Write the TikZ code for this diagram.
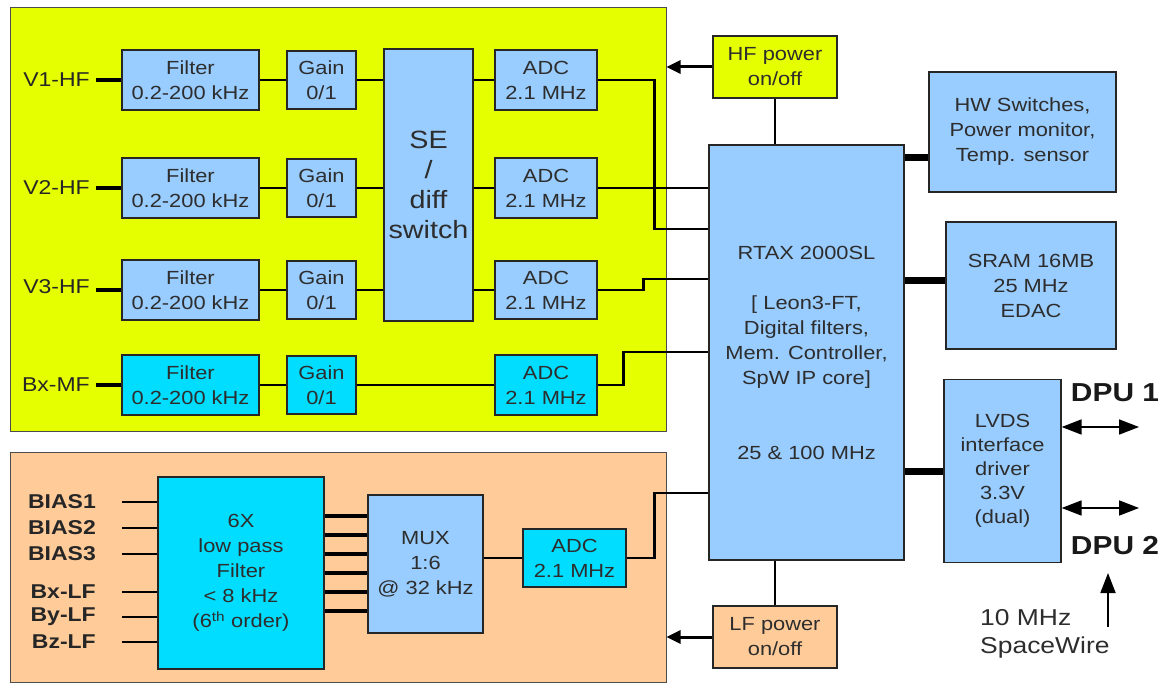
\documentclass[tikz,border=0pt]{standalone}
\usepackage{fontspec}
\setmainfont{Liberation Sans}[FakeStretch=1.15]
\usetikzlibrary{arrows.meta}
\definecolor{lblue}{RGB}{153,204,255}
\definecolor{cyanb}{RGB}{0,221,255}
\definecolor{yelreg}{RGB}{230,255,0}
\definecolor{orreg}{RGB}{255,204,153}
\definecolor{txt}{RGB}{45,45,45}
\newcommand\myfs[2]{\fontsize{#1}{#2}\selectfont}
\begin{document}
\begin{tikzpicture}[x=1pt,y=-1pt,
 every node/.style={inner sep=0pt, text=txt},
 sz/.style 2 args={minimum width=#1pt, minimum height=#2pt},
 blk/.style={draw=black!85, line width=1.3pt, align=center, font=\myfs{19}{25}},
 bl/.style={blk, fill=lblue},
 cy/.style={blk, fill=cyanb},
 region/.style={draw=black!70, line width=1pt},
 cable/.style={line width=2.6pt},
 lwire/.style={line width=4pt},
 fat/.style={line width=7pt},
 lab/.style={font=\myfs{20}{24}, anchor=east, text=black!85},
 blab/.style={font=\bfseries\myfs{20}{24}, anchor=east, text=black!85},
 arr/.style={line width=3pt, -{Triangle[length=14pt,width=13pt]}},
 dbl/.style={line width=1.8pt, {Triangle[length=20pt,width=15pt]}-{Triangle[length=20pt,width=15pt]}},
 uparr/.style={line width=1.8pt, -{Triangle[length=20pt,width=15pt]}},
]
\useasboundingbox (0,0) rectangle (1165,684);
% regions
\node[region, fill=yelreg, sz={656}{424}] (hfreg) at (338,220) {};
\node[region, fill=orreg, sz={656}{229}] (lfreg) at (338,567.5) {};

% HF chain
\node[bl, sz={137}{60}] (f1) at (190.5,80) {Filter\\0.2-200 kHz};
\node[bl, sz={137}{60}] (f2) at (190.5,188) {Filter\\0.2-200 kHz};
\node[bl, sz={137}{60}] (f3) at (190.5,290) {Filter\\0.2-200 kHz};
\node[cy, sz={137}{60}] (f4) at (190.5,385) {Filter\\0.2-200 kHz};
\node[bl, sz={69}{58}] (g1) at (321.5,80) {Gain\\0/1};
\node[bl, sz={69}{58}] (g2) at (321.5,188) {Gain\\0/1};
\node[bl, sz={69}{58}] (g3) at (321.5,290) {Gain\\0/1};
\node[cy, sz={69}{58}] (g4) at (321.5,385) {Gain\\0/1};
\node[bl, sz={89}{272}, font=\myfs{25}{30}] (se) at (428.5,185) {SE\\/\\diff\\switch};
\node[bl, sz={102}{60}] (a1) at (546,80) {ADC\\2.1 MHz};
\node[bl, sz={102}{60}] (a2) at (546,188) {ADC\\2.1 MHz};
\node[bl, sz={102}{58}] (a3) at (546,290) {ADC\\2.1 MHz};
\node[cy, sz={102}{60}] (a4) at (546,385) {ADC\\2.1 MHz};

\node[lab] (v1) at (90,80) {V1-HF};
\node[lab] (v2) at (90,188) {V2-HF};
\node[lab] (v3) at (90,287) {V3-HF};
\node[lab] (bx) at (90,385) {Bx-MF};

\foreach \i in {1,2,3,4} {
  \draw[cable] (f\i.east) -- (g\i.west);
}
\draw[lwire] ([xshift=6pt]v1.east) -- (f1.west |- v1.east);
\draw[lwire] ([xshift=6pt]v2.east) -- (f2.west |- v2.east);
\draw[lwire] ([xshift=6pt]v3.east |- f3.west) -- (f3.west);
\draw[lwire] ([xshift=6pt]bx.east) -- (f4.west |- bx.east);
\foreach \i in {1,2,3} {
  \draw[cable] (g\i.east) -- (se.west |- g\i.east);
  \draw[cable] (se.east |- a\i.west) -- (a\i.west);
}
\draw[cable] (g4.east) -- (a4.west);

% RTAX
\node[bl, sz={195}{415}] (rtax) at (806.5,352.5)
 {RTAX 2000SL\\[25pt][ Leon3-FT,\\Digital filters,\\Mem. Controller,\\SpW IP core]\\[50pt]25 \& 100 MHz};

\draw[cable] (a1.east) -- ++(57,0) |- (rtax.west |- 0,229);
\draw[cable] (a2.east) -- (rtax.west |- a2.east);
\draw[cable] (a3.east) -- ++(46,0) |- (rtax.west |- 0,279);
\draw[cable] (a4.east) -- ++(26,0) |- (rtax.west |- 0,352);

% power boxes
\node[blk, fill=yelreg, sz={124}{62}] (hfp) at (775,67) {HF power\\on/off};
\node[blk, fill=orreg, sz={124}{62}] (lfp) at (775,637) {LF power\\on/off};
\draw[cable] (hfp.south) -- (rtax.north -| hfp.south);
\draw[cable] (rtax.south -| lfp.north) -- (lfp.north);
\draw[arr] (hfp.west) -- (hfp.west -| hfreg.east);
\draw[arr] (lfp.west) -- (lfp.west -| lfreg.east);

% right side boxes
\node[bl, sz={187}{120}] (hw) at (1022.5,132) {HW Switches,\\Power monitor,\\Temp. sensor};
\node[bl, sz={170}{127}] (sram) at (1031,285.5) {SRAM 16MB\\25 MHz\\EDAC};
\node[bl, sz={117}{183}, font=\myfs{19}{24}] (lvds) at (1002.5,471) {LVDS\\interface\\driver\\3.3V\\(dual)};
\draw[fat] (rtax.east |- 0,158) -- (hw.west |- 0,158);
\draw[fat] (rtax.east |- 0,281) -- (sram.west |- 0,281);
\draw[fat] (rtax.east |- lvds.west) -- (lvds.west);

\node[font=\bfseries\myfs{26}{30}, text=black!90] (dpu1) at (1115,393) {DPU 1};
\node[font=\bfseries\myfs{26}{30}, text=black!90] (dpu2) at (1115,546) {DPU 2};
\coordinate (d1) at (1139,427);
\coordinate (d2) at (1139,508);
\draw[dbl] (lvds.east |- d1) -- (d1);
\draw[dbl] (lvds.east |- d2) -- (d2);
\node[font=\myfs{23}{28}, align=left, anchor=west] (spw) at (980,634) {10 MHz\\SpaceWire};
\coordinate (sw0) at (1108,627);
\coordinate (sw1) at (1108,573);
\draw[uparr] (sw0) -- (sw1);

% LF chain
\node[cy, sz={166}{192}] (lp) at (241,573) {6X\\low pass\\Filter\\< 8 kHz\\(6\textsuperscript{th} order)};
\node[bl, sz={115}{138}] (mux) at (425.5,564) {MUX\\1:6\\@ 32 kHz};
\node[cy, sz={103}{58}] (alf) at (574.5,558) {ADC\\2.1 MHz};

\node[blab] (b1) at (96,502) {BIAS1};
\node[blab] (b2) at (96,528) {BIAS2};
\node[blab] (b3) at (96,554) {BIAS3};
\node[blab] (b4) at (96,592) {Bx-LF};
\node[blab] (b5) at (96,617) {By-LF};
\node[blab] (b6) at (96,642) {Bz-LF};
\coordinate (s1) at (122,502);
\coordinate (s2) at (122,528);
\coordinate (s3) at (122,554);
\coordinate (s4) at (122,592);
\coordinate (s5) at (122,617);
\coordinate (s6) at (122,642);
\foreach \i in {1,...,6} {
  \draw[cable] (s\i) -- (lp.west |- s\i);
}
\foreach \yy in {516,535,554,573,592,611} {
  \draw[lwire] (lp.east |- 0,\yy) -- (mux.west |- 0,\yy);
}
\draw[cable] (mux.east |- alf.west) -- (alf.west);
\draw[cable] (alf.east) -- ++(28,0) |- (rtax.west |- 0,493);
\end{tikzpicture}
\end{document}
